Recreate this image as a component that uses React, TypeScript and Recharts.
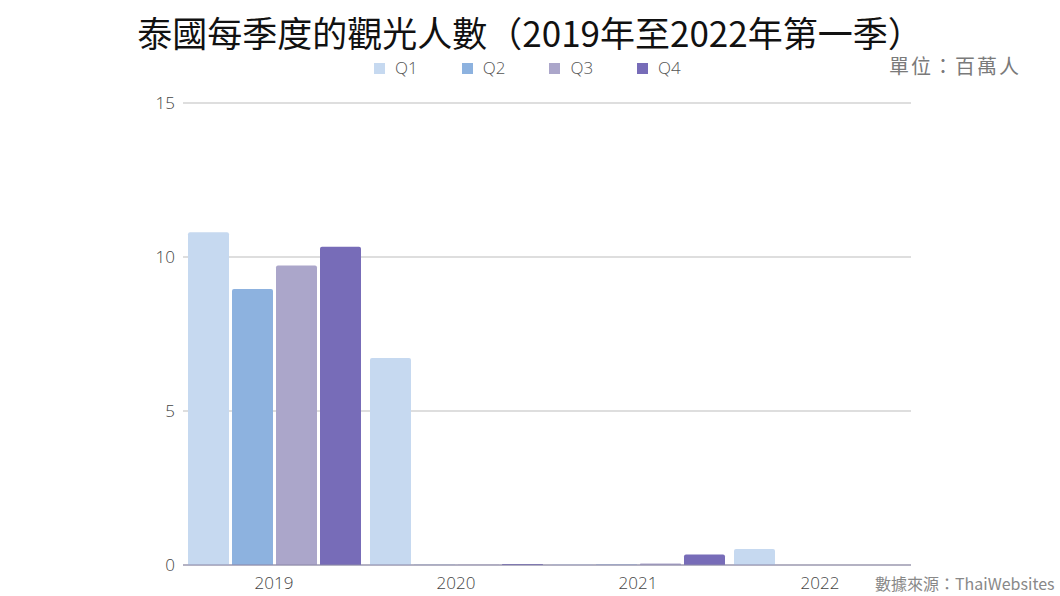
import { BarChart, Bar, XAxis, YAxis, CartesianGrid } from "recharts";

const years = ["2019", "2020", "2021", "2022"];
const q1 = [10.8, 6.72, 0.02, 0.52];
const q2 = [8.96, 0.01, 0.02, 0];
const q3 = [9.72, 0.01, 0.05, 0];
const q4 = [10.33, 0.03, 0.34, 0];
const yTicks = [0, 5, 10, 15];

const series = [
  { key: "Q1", values: q1, color: "#c6d9f0" },
  { key: "Q2", values: q2, color: "#8db2df" },
  { key: "Q3", values: q3, color: "#aba6ca" },
  { key: "Q4", values: q4, color: "#776cb8" },
];

const data = years.map((year, i) => ({
  year,
  Q1: q1[i],
  Q2: q2[i],
  Q3: q3[i],
  Q4: q4[i],
}));

const font = "'Open Sans', 'Noto Sans CJK TC', sans-serif";
const cjk = "'Noto Sans CJK TC', sans-serif";

export default function App() {
  return (
    <div style={{ position: "relative", width: 1060, height: 596, background: "#fff", fontFamily: font }}>
      <style>{"body{margin:0}"}</style>
      <div
        style={{
          position: "absolute",
          top: 8,
          left: 0,
          width: 1060,
          textAlign: "center",
          fontSize: 35,
          color: "#111",
          fontFamily: cjk,
          lineHeight: "48px",
        }}
      >
        泰國每季度的觀光人數（2019年至2022年第一季）
      </div>
      <div
        style={{
          position: "absolute",
          top: 52,
          left: 889,
          fontSize: 20,
          color: "#7a7a7a",
          fontFamily: cjk,
          lineHeight: "28px",
          letterSpacing: 2,
          whiteSpace: "nowrap",
        }}
      >
        單位：百萬人
      </div>
      <div
        style={{
          position: "absolute",
          top: 572,
          left: 875,
          fontSize: 16,
          color: "#888",
          fontFamily: cjk,
          lineHeight: "22px",
          whiteSpace: "nowrap",
        }}
      >
        數據來源：ThaiWebsites
      </div>
      <div
        style={{
          position: "absolute",
          top: 56,
          left: 374,
          display: "flex",
          gap: 44,
          fontFamily: font,
        }}
      >
        {series.map((s) => (
          <div key={s.key} style={{ display: "flex", alignItems: "center", gap: 10 }}>
            <span style={{ width: 11, height: 11, background: s.color, display: "inline-block" }} />
            <span style={{ fontSize: 17, color: "#555", fontWeight: 300, lineHeight: "24px" }}>{s.key}</span>
          </div>
        ))}
      </div>
      <div style={{ position: "absolute", top: 0, left: 0 }}>
        <BarChart
          width={1060}
          height={596}
          data={data}
          margin={{ top: 103, right: 149, left: 143, bottom: 1 }}
          barCategoryGap={5}
          barGap={3}
        >
          <CartesianGrid vertical={false} stroke="#bdbdbd" />
          <XAxis
            dataKey="year"
            height={30}
            tickLine={false}
            axisLine={{ stroke: "#8a86a8" }}
            tick={{ fill: "#444", fontSize: 17, fontFamily: font, fontWeight: 300 }}
            tickMargin={6}
          />
          <YAxis
            domain={[0, 15]}
            ticks={yTicks}
            width={40}
            axisLine={false}
            tickLine={false}
            tick={{ fill: "#444", fontSize: 17, fontFamily: font, fontWeight: 300 }}
            tickMargin={2}
          />
          {series.map((s) => (
            <Bar
              key={s.key}
              dataKey={s.key}
              fill={s.color}
              radius={[2, 2, 0, 0]}
              isAnimationActive={false}
            />
          ))}
        </BarChart>
      </div>
    </div>
  );
}
